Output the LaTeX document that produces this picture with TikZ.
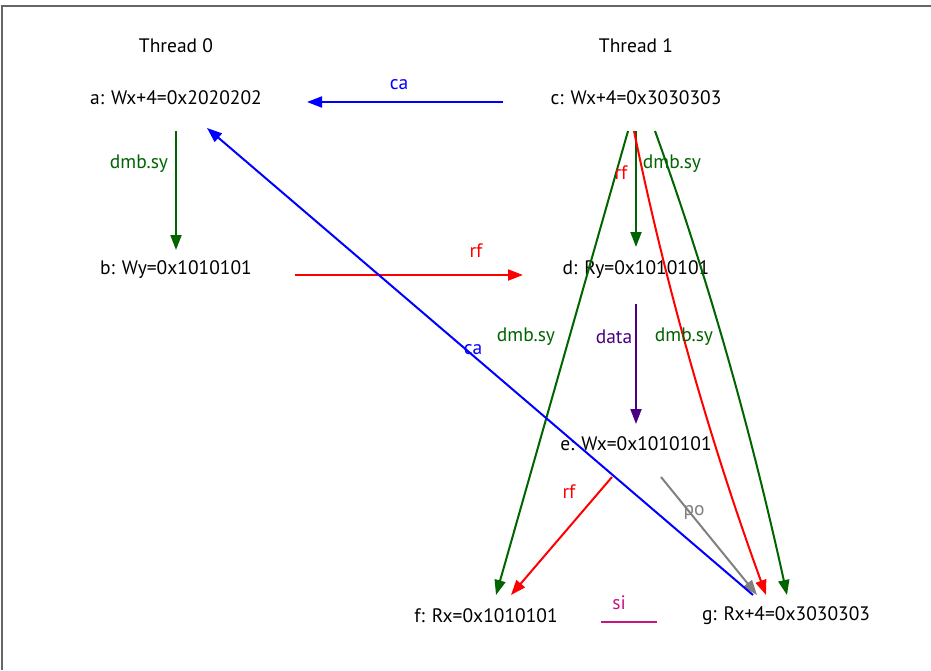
\documentclass[tikz,border=0pt]{standalone}
\usepackage{fontspec}
\setmainfont{PT Sans}
\usetikzlibrary{arrows.meta,calc}
\definecolor{dgreen}{HTML}{006400}
\definecolor{pindigo}{HTML}{4B0082}
\definecolor{sicol}{HTML}{C71585}
\definecolor{framecol}{HTML}{666666}
\begin{document}
\begin{tikzpicture}[x=1pt,y=-1pt,
  every node/.style={font=\fontsize{19.5}{22}\selectfont, inner sep=0pt},
  ev/.style={text=black},
  rel/.style={line width=2pt, -{Triangle[length=15pt,width=11pt]}},
  dmbrel/.style={rel, draw=dgreen},
  rfrel/.style={rel, draw=red},
  carel/.style={rel, draw=blue},
  datarel/.style={rel, draw=pindigo},
  porel/.style={rel, draw=gray},
  sirel/.style={line width=2pt, draw=sicol}]
\useasboundingbox (0,0) rectangle (931,670);
\draw[framecol, line width=2pt] (1.5,670) -- (1.5,6) -- (931,6);

\node (t0) at (176,46) {Thread 0};
\node (t1) at (636,46) {Thread 1};
\node[ev] (a) at (176,98) {a: Wx+4=0x2020202};
\node[ev] (b) at (176,270) {b: Wy=0x1010101};
\node[ev] (c) at (636,98) {c: Wx+4=0x3030303};
\node[ev] (d) at (636,270) {d: Ry=0x1010101};
\node[ev] (e) at (636,444) {e: Wx=0x1010101};
\node[ev] (f) at (486,616) {f: Rx=0x1010101};
\node[ev] (g) at (786,616) {g: Rx+4=0x3030303};

\draw[carel] ($(c)+(-133,4)$) -- ($(a)+(131,4)$);
\draw[dmbrel] ($(a)+(0,33)$) -- ($(b)+(0,-20)$);
\draw[rfrel] ($(b)+(119,5)$) -- ($(d)+(-113,5)$);
\draw[dmbrel] ($(c)+(0,33)$) -- ($(d)+(0,-23)$);
\draw[dmbrel] ($(c)+(-8,33)$) -- ($(f)+(10,-21)$);
\draw[rfrel] ($(c)+(-2,33)$) .. controls ($(c)+(30,189)$) and ($(g)+(-76,-175)$) .. ($(g)+(-20,-21)$);
\draw[dmbrel] ($(c)+(19,33)$) .. controls ($(c)+(75,188)$) and ($(g)+(-33,-176)$) .. ($(g)+(1,-21)$);
\draw[datarel] ($(d)+(0,34)$) -- ($(e)+(0,-20)$);
\draw[rfrel] ($(e)+(-24,33)$) -- ($(f)+(25,-21)$);
\draw[porel] ($(e)+(25,33)$) -- ($(g)+(-29,-21)$);
\draw[carel] ($(g)+(-33,-21)$) -- ($(a)+(31,30)$);
\draw[sirel] ($(f)+(115,6)$) -- ($(g)+(-129,6)$);

\node[text=blue] (l1) at (399,85) {ca};
\node[text=dgreen] (l2) at (139,164) {dmb.sy};
\node[text=red] (l3) at (476,251) {rf};
\node[text=dgreen] (l4) at (672,164) {dmb.sy};
\node[text=red] (l5) at (621,173) {rf};
\node[text=dgreen] (l6) at (526,337) {dmb.sy};
\node[text=pindigo] (l7) at (614,337) {data};
\node[text=dgreen] (l8) at (684,337) {dmb.sy};
\node[text=blue] (l9) at (473,350) {ca};
\node[text=red] (l10) at (569,492) {rf};
\node[text=gray] (l11) at (694,512) {po};
\node[text=sicol] (l12) at (619,603) {si};
\end{tikzpicture}
\end{document}
